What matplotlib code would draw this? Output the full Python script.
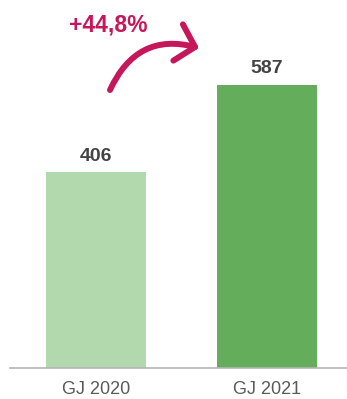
import matplotlib
matplotlib.use("Agg")
import matplotlib.pyplot as plt
from matplotlib.patches import FancyArrowPatch, ArrowStyle

plt.rcParams['font.family'] = ['Liberation Sans', 'DejaVu Sans']

# values per fiscal year
years = ['GJ 2020', 'GJ 2021']
values = [406, 587]
bar_colors = ['#b1d9ad', '#63ad5b']
growth_label = '+44,8%'

fig = plt.figure(figsize=(3.47, 3.99), dpi=100)
ax = fig.add_axes([10 / 347, 31 / 399, 337 / 347, 368 / 399])

x = list(range(len(values)))
ax.bar(x, values, width=0.585, color=bar_colors, zorder=2)

for xi, v in zip(x, values):
    ax.annotate(str(v), (xi, v), xytext=(0, 8), textcoords='offset points',
                ha='center', va='baseline', fontsize=14, fontweight='bold',
                color='#444444')

ax.set_xlim(-0.503, 1.468)
ax.set_ylim(0, 762)
ax.set_xticks(x)
ax.set_xticklabels(years, fontsize=13, color='#5a5a5a')
ax.tick_params(axis='x', length=0, pad=9)
ax.set_yticks([])
for side in ['top', 'right', 'left']:
    ax.spines[side].set_visible(False)
ax.spines['bottom'].set_color('#b5b5b5')
ax.spines['bottom'].set_linewidth(1.2)

# growth note with curved arrow
crimson = '#c6175b'
fig.text(108 / 347, 1 - 25 / 399, growth_label, ha='center', va='center',
         fontsize=16.5, fontweight='bold', color=crimson)
arrow = FancyArrowPatch((110 / 347, 1 - 90 / 399), (199 / 347, 1 - 48 / 399),
                        transform=fig.transFigure,
                        connectionstyle='arc3,rad=-0.42',
                        arrowstyle=ArrowStyle('->', head_length=0.42, head_width=0.45),
                        mutation_scale=30, lw=4.3, color=crimson,
                        capstyle='round', joinstyle='round',
                        shrinkA=0, shrinkB=0)
fig.patches.append(arrow)

fig.savefig('out.png', dpi=100, facecolor='white')
